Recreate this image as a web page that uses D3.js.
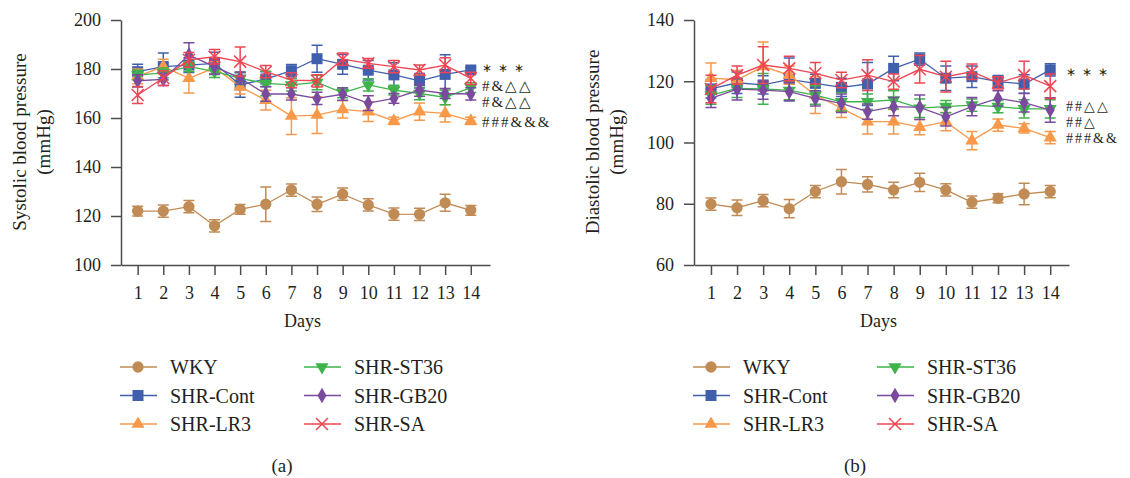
<!DOCTYPE html>
<html>
<head>
<meta charset="utf-8">
<script src="https://cdn.jsdelivr.net/npm/d3@7"></script>
<style>
  body { margin: 0; background: #fff; }
  text { font-family: "Liberation Serif", "Times New Roman", serif; fill: #231f20; }
  .axis path, .axis line { stroke: #4d4d4d; stroke-width: 1.5; }
</style>
</head>
<body>
<svg id="chart" width="1130" height="478"></svg>
<script>
// ---------------------------------------------------------------------------
// DATA
// ---------------------------------------------------------------------------
const days = [1, 2, 3, 4, 5, 6, 7, 8, 9, 10, 11, 12, 13, 14];
const groups = ['WKY', 'SHR-Cont', 'SHR-LR3', 'SHR-ST36', 'SHR-GB20', 'SHR-SA'];

// systolic (a)
const sbpWKY = [122, 122, 123.8, 116, 122.7, 124.8, 130.6, 124.8, 128.9, 124.5, 120.8, 120.7, 125.4, 122.3];
const sbpWKYErr = [2, 2.5, 2.5, 2.5, 2, 7, 2.5, 3, 2.5, 2.5, 2.5, 2.5, 3.5, 2];
const sbpCont = [178.9, 181, 181.6, 182.3, 173.5, 175.9, 179.3, 184.2, 181.9, 179.5, 177.6, 175.2, 177.8, 179.6];
const sbpContErr = [3, 5.5, 3, 4.5, 5, 3, 2.5, 5.5, 4, 4, 5, 3, 8, 1];
const sbpLR3 = [177, 181, 176.2, 180.5, 172.8, 167.3, 160.8, 161.2, 163.5, 162.6, 158.8, 162.6, 161.9, 158.8];
const sbpLR3Err = [3, 3, 6, 2.5, 3, 4, 7.5, 7.5, 3.5, 4, 1.5, 3.5, 3.5, 1.5];
const sbpST36 = [177.5, 178.4, 181, 179, 176.2, 174.1, 173.5, 174.5, 170.3, 173.5, 171.4, 170, 168.4, 172.4];
const sbpST36Err = [2, 2, 2, 2.5, 2.5, 5, 2.5, 3, 2, 2.5, 2, 2.5, 3, 2];
const sbpGB20 = [175.2, 175.8, 185.7, 181, 176.3, 169.8, 169.8, 168, 169.7, 166.1, 168, 171.4, 170, 169.8];
const sbpGB20Err = [2.5, 2.5, 5, 3, 2.5, 3, 2.5, 2.5, 2.5, 3, 2, 2.5, 2, 2.5];
const sbpSA = [169.4, 176.3, 183.7, 185, 183, 178.9, 175.5, 175.2, 184, 182.3, 181, 179.6, 181.6, 176.2];
const sbpSAErr = [3.5, 3, 3, 3, 6, 2.5, 3, 2.5, 2.5, 2, 2.5, 2, 3, 2.5];
const sbpTicks = [100, 120, 140, 160, 180, 200];
const sbpNotes = ['∗∗∗', '#&△△', '#&△△', '###&&&'];
const sbpNoteAt = [180.5, 173.3, 166.6, 158.3];

// diastolic (b)
const dbpWKY = [79.9, 78.7, 81, 78.4, 84, 87.2, 86.3, 84.5, 87, 84.5, 80.5, 81.8, 83.2, 84];
const dbpWKYErr = [2, 2.5, 2, 3, 2, 4, 2.5, 2.5, 3, 2, 2, 1.5, 3.5, 2];
const dbpCont = [117.5, 119.5, 118.8, 120.6, 119.3, 118, 119.1, 124.2, 127.2, 121, 121.5, 119.9, 119.1, 123.7];
const dbpContErr = [3, 3.5, 3, 7, 3, 3, 7, 4, 2, 4, 3.5, 2, 3, 2];
const dbpLR3 = [121, 120.5, 124.8, 122, 115.5, 111.2, 106.8, 106.8, 105, 106.8, 100.6, 105.7, 104.6, 101.6];
const dbpLR3Err = [5, 3, 8, 3, 6, 3, 4, 4, 2.5, 3, 3, 2, 1.5, 2];
const dbpST36 = [115.5, 117.7, 117.5, 117, 115.5, 113.3, 113.3, 113.9, 111.2, 111.7, 112.2, 111.7, 111, 111];
const dbpST36Err = [3, 3, 5, 3, 3, 3, 2.5, 3, 3, 2, 2, 2, 3, 3];
const dbpGB20 = [114.4, 117.4, 117.1, 116.6, 114.4, 112.8, 110.1, 111.7, 111.5, 108.4, 111.7, 114.4, 113, 110.6];
const dbpGB20Err = [3, 3.5, 3, 3, 2.5, 3, 2.5, 3, 4, 3, 3, 2.5, 3, 4];
const dbpSA = [117.5, 122, 125.3, 124.2, 122.6, 120.4, 122, 119.9, 123.9, 121.5, 123.1, 119.5, 122, 118.4];
const dbpSAErr = [4.5, 3, 6, 4, 3.5, 2.5, 5, 2.5, 4.5, 5, 2.5, 2, 4.5, 4];
const dbpTicks = [60, 80, 100, 120, 140];
const dbpNotes = ['∗∗∗', '##△△', '##△', '###&&'];
const dbpNoteAt = [123.2, 111.8, 106.7, 101.6];

// ---------------------------------------------------------------------------
// STYLE
// ---------------------------------------------------------------------------
const colors = {
  'WKY': '#c08b55',
  'SHR-Cont': '#4060ae',
  'SHR-LR3': '#f8994a',
  'SHR-ST36': '#3db34a',
  'SHR-GB20': '#7a4a9f',
  'SHR-SA': '#ef4452',
};
const shapes = {
  'WKY': { type: d3.symbolCircle, size: 100, rot: 0 },
  'SHR-Cont': { type: d3.symbolSquare, size: 121, rot: 0 },
  'SHR-LR3': { type: d3.symbolTriangle, size: 75, rot: 0 },
  'SHR-ST36': { type: d3.symbolTriangle, size: 75, rot: 180 },
  'SHR-GB20': { type: d3.symbolDiamond, size: 70, rot: 0 },
  'SHR-SA': null, // drawn as a stroked x
};

const svg = d3.select('#chart');

function drawMarker(g, name, cx, cy) {
  const c = colors[name];
  if (shapes[name] === null) {
    const r = 6;
    g.append('path')
      .attr('d', `M${cx - r},${cy - r}L${cx + r},${cy + r}M${cx - r},${cy + r}L${cx + r},${cy - r}`)
      .attr('stroke', c).attr('stroke-width', 1.5).attr('fill', 'none');
    return;
  }
  const s = shapes[name];
  g.append('path')
    .attr('d', d3.symbol().type(s.type).size(s.size)())
    .attr('transform', `translate(${cx},${cy}) rotate(${s.rot})`)
    .attr('fill', c);
}

function drawPanel(cfg) {
  const x = d3.scaleLinear().domain(cfg.xDomain).range(cfg.xRange);
  const y = d3.scaleLinear().domain(cfg.yDomain).range([265, 20]);
  const g = svg.append('g');

  // axes
  g.append('g').attr('class', 'axis')
    .attr('transform', `translate(${cfg.xRange[0]},0)`)
    .call(d3.axisLeft(y).tickValues(cfg.yTicks).tickSize(10).tickSizeOuter(0).tickPadding(10))
    .call(a => a.selectAll('text').attr('font-size', 18));
  g.append('g').attr('class', 'axis')
    .attr('transform', 'translate(0,265)')
    .call(d3.axisBottom(x).tickValues(days).tickSize(10).tickSizeOuter(0).tickPadding(11))
    .call(a => a.selectAll('text').attr('font-size', 18));
  g.selectAll('.axis').attr('font-family', null);

  g.append('text').attr('x', (cfg.xRange[0] + cfg.xRange[1]) / 2 - 3).attr('y', 327)
    .attr('text-anchor', 'middle').attr('font-size', 18).text('Days');

  const yl = g.append('text').attr('text-anchor', 'middle').attr('font-size', 19)
    .attr('transform', `translate(${cfg.xRange[0] - 95},142) rotate(-90)`);
  yl.append('tspan').attr('x', 0).attr('dy', 0).text(cfg.yTitle);
  yl.append('tspan').attr('x', 0).attr('dy', 24).text('(mmHg)');

  // series
  cfg.series.forEach((s) => {
    const c = colors[s.name];
    const sg = g.append('g');
    const line = d3.line().x((d, i) => x(days[i])).y(d => y(d));
    sg.append('path').datum(s.mean).attr('d', line)
      .attr('fill', 'none').attr('stroke', c).attr('stroke-width', 1.3);
    s.mean.forEach((m, i) => {
      const cx = x(days[i]);
      const y0 = y(m - s.err[i]);
      const y1 = y(m + s.err[i]);
      sg.append('path')
        .attr('d', `M${cx},${y0}L${cx},${y1}M${cx - 5.5},${y0}L${cx + 5.5},${y0}M${cx - 5.5},${y1}L${cx + 5.5},${y1}`)
        .attr('stroke', c).attr('stroke-width', 1.5).attr('fill', 'none');
    });
    s.mean.forEach((m, i) => drawMarker(sg, s.name, x(days[i]), y(m)));
  });

  // significance notes
  cfg.notes.forEach((t, i) => {
    const star = t.startsWith('∗');
    g.append('text').attr('x', cfg.noteX).attr('y', y(cfg.noteAt[i])).attr('dy', '0.35em')
      .attr('font-size', star ? 12 : cfg.noteSize)
      .attr('letter-spacing', star ? 6 : cfg.noteSpacing)
      .attr('fill', star ? '#555' : '#333').text(t);
  });

  // legend
  const lx = [cfg.legendX, cfg.legendX + 184];
  groups.forEach((name, i) => {
    const col = Math.floor(i / 3);
    const ly = 367 + (i % 3) * 28.5;
    const x0 = lx[col];
    g.append('line').attr('x1', x0).attr('x2', x0 + 37).attr('y1', ly).attr('y2', ly)
      .attr('stroke', colors[name]).attr('stroke-width', 1.5);
    drawMarker(g, name, x0 + 18, ly);
    g.append('text').attr('x', x0 + 50).attr('y', ly).attr('dy', '0.35em')
      .attr('font-size', 20).text(name);
  });

  g.append('text').attr('x', cfg.capX).attr('y', 465).attr('dy', '0.35em')
    .attr('text-anchor', 'middle').attr('font-size', 19).text(cfg.caption);
}

drawPanel({
  xDomain: [0.35, 14.75], xRange: [121, 490],
  yDomain: [100, 200], yTicks: sbpTicks,
  yTitle: 'Systolic blood pressure',
  series: [
    { name: 'WKY', mean: sbpWKY, err: sbpWKYErr },
    { name: 'SHR-Cont', mean: sbpCont, err: sbpContErr },
    { name: 'SHR-LR3', mean: sbpLR3, err: sbpLR3Err },
    { name: 'SHR-ST36', mean: sbpST36, err: sbpST36Err },
    { name: 'SHR-GB20', mean: sbpGB20, err: sbpGB20Err },
    { name: 'SHR-SA', mean: sbpSA, err: sbpSAErr },
  ],
  notes: sbpNotes, noteAt: sbpNoteAt, noteX: 482, noteSize: 15, noteSpacing: 2,
  legendX: 120, capX: 282, caption: '(a)',
});

drawPanel({
  xDomain: [0.35, 14.72], xRange: [694, 1069],
  yDomain: [60, 140], yTicks: dbpTicks,
  yTitle: 'Diastolic blood pressure',
  series: [
    { name: 'WKY', mean: dbpWKY, err: dbpWKYErr },
    { name: 'SHR-Cont', mean: dbpCont, err: dbpContErr },
    { name: 'SHR-LR3', mean: dbpLR3, err: dbpLR3Err },
    { name: 'SHR-ST36', mean: dbpST36, err: dbpST36Err },
    { name: 'SHR-GB20', mean: dbpGB20, err: dbpGB20Err },
    { name: 'SHR-SA', mean: dbpSA, err: dbpSAErr },
  ],
  notes: dbpNotes, noteAt: dbpNoteAt, noteX: 1066, noteSize: 14, noteSpacing: 2,
  legendX: 693, capX: 855, caption: '(b)',
});
</script>
</body>
</html>
